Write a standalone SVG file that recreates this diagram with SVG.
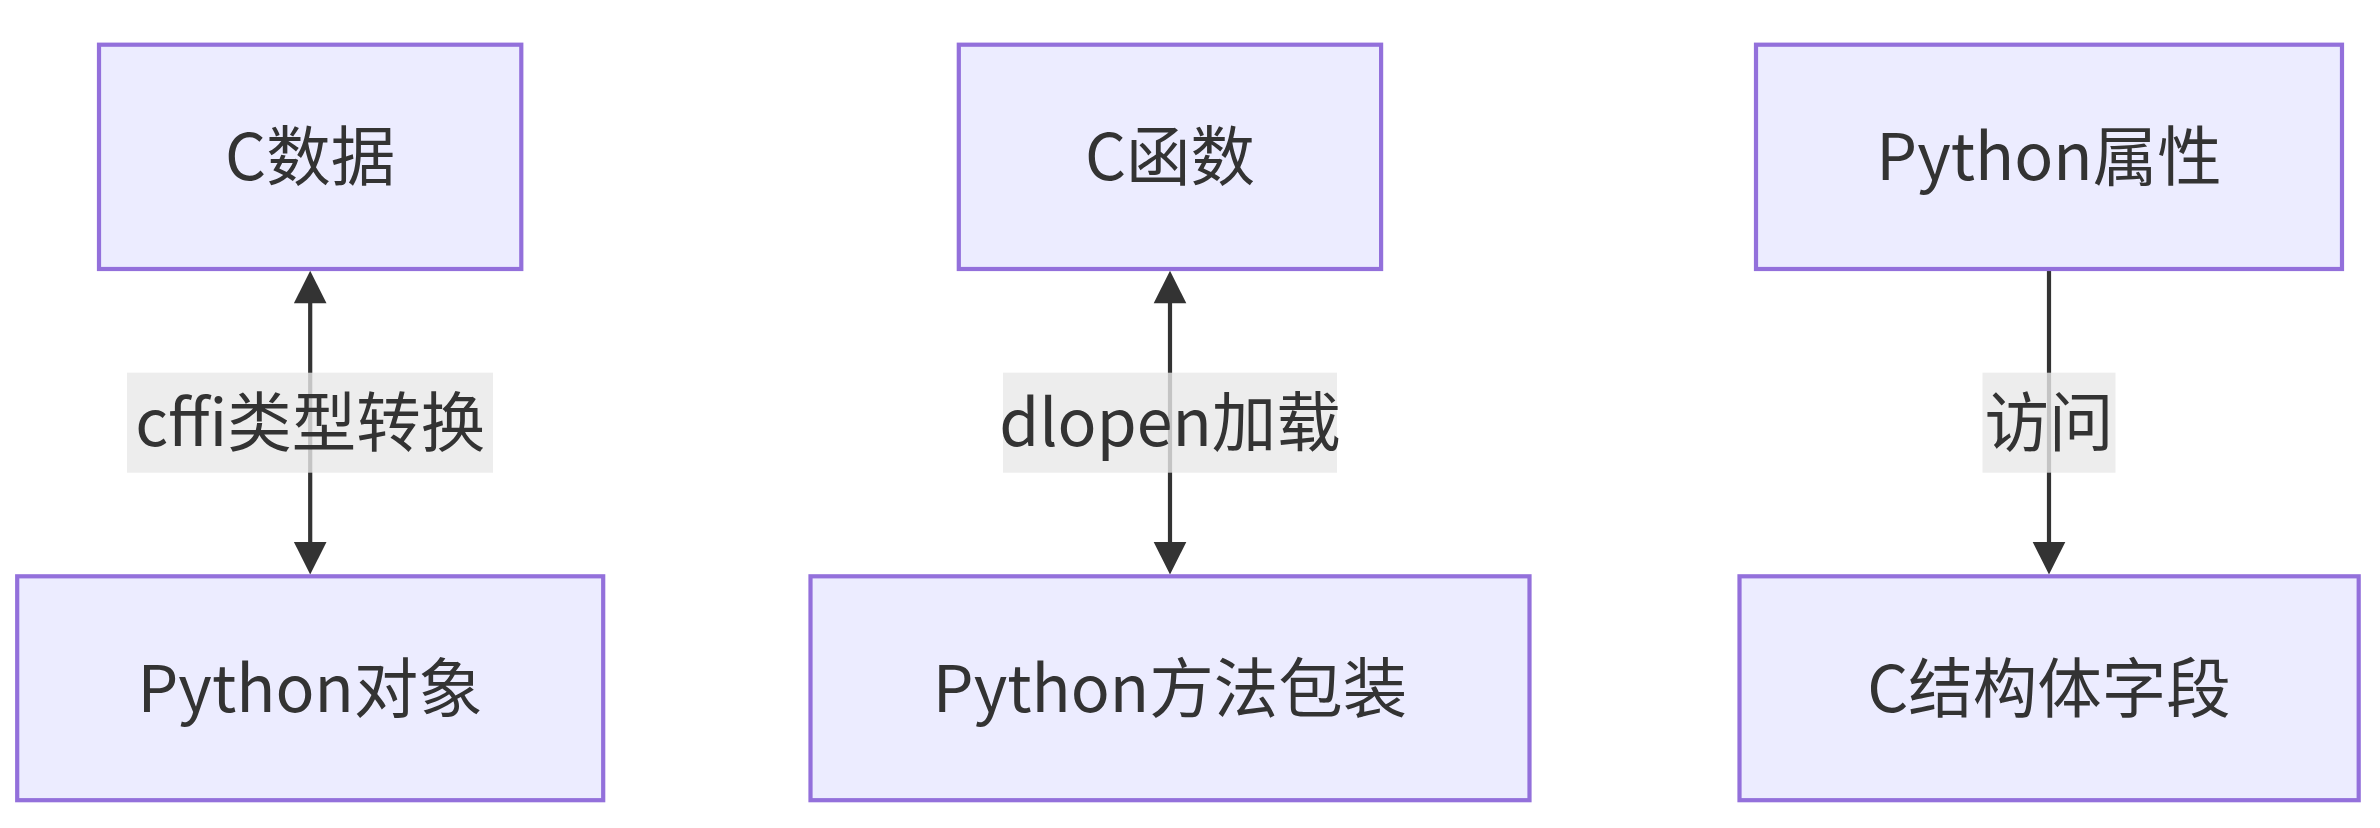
<svg xmlns="http://www.w3.org/2000/svg" width="2380" height="828" viewBox="0 0 2380 828">
<style>
.node rect{fill:#ECECFF;stroke:#9370DB;stroke-width:4.2}
text{font-family:"Noto Sans CJK SC","Noto Sans",sans-serif;font-size:64.5px;fill:#333;text-anchor:middle;dominant-baseline:central}
.edge line{stroke:#333;stroke-width:4.2}
.edge polygon{fill:#333}
.lbl rect{fill:#e8e8e8;fill-opacity:0.8}
</style>
<rect width="2380" height="828" fill="#fff"/>
<g id="connectors">
<g class="edge" id="e1">
<line x1="310.2" y1="300" x2="310.2" y2="545"/>
<polygon points="310.2,270.7 326.5,303.3 293.9,303.3"/>
<polygon points="310.2,574.5 326.5,541.9 293.9,541.9"/>
</g>
<g class="edge" id="e2">
<line x1="1170" y1="300" x2="1170" y2="545"/>
<polygon points="1170,270.7 1186.3,303.3 1153.7,303.3"/>
<polygon points="1170,574.5 1186.3,541.9 1153.7,541.9"/>
</g>
<g class="edge" id="e3">
<line x1="2049" y1="270" x2="2049" y2="545"/>
<polygon points="2049,574.5 2065.3,541.9 2032.7,541.9"/>
</g>
<g class="lbl">
<rect x="127" y="372.7" width="366" height="100"/>
<text x="310.2" y="418">cffi类型转换</text>
</g>
<g class="lbl">
<rect x="1003" y="372.7" width="334" height="100"/>
<text x="1170" y="418">dlopen加载</text>
</g>
<g class="lbl">
<rect x="1982.5" y="372.7" width="133" height="100"/>
<text x="2049" y="418">访问</text>
</g>
</g>
<g class="node" id="cdata">
<rect x="99" y="44.7" width="422.3" height="224.3"/>
<text x="310.2" y="152">C数据</text>
</g>
<g class="node" id="pyobj">
<rect x="17.2" y="576.3" width="586" height="223.9"/>
<text x="310.2" y="683.5">Python对象</text>
</g>
<g class="node" id="cfunc">
<rect x="958.8" y="44.7" width="422.3" height="224.3"/>
<text x="1170" y="152">C函数</text>
</g>
<g class="node" id="pymethod">
<rect x="810.5" y="576.3" width="719" height="223.9"/>
<text x="1170" y="683.5">Python方法包装</text>
</g>
<g class="node" id="pyattr">
<rect x="1756" y="44.7" width="586" height="224.3"/>
<text x="2049" y="152">Python属性</text>
</g>
<g class="node" id="cfield">
<rect x="1739.5" y="576.3" width="619.2" height="223.9"/>
<text x="2049" y="683.5">C结构体字段</text>
</g>
</svg>
